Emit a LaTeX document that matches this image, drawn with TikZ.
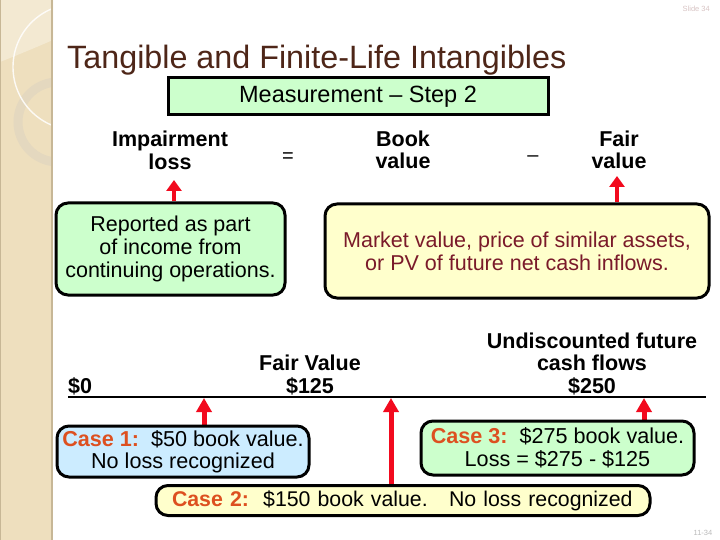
\documentclass[tikz,border=0pt]{standalone}
\usepackage{fontspec}
\setmainfont{Liberation Sans}
\usetikzlibrary{arrows.meta}
\definecolor{titlebrown}{HTML}{4E2618}
\definecolor{lgreen}{HTML}{CCFFCC}
\definecolor{lyellow}{HTML}{FFFFCC}
\definecolor{lblue}{HTML}{CCECFF}
\definecolor{mktred}{HTML}{7A1A2A}
\definecolor{caseor}{HTML}{DD5020}
\definecolor{arrowred}{HTML}{F20A1E}
\definecolor{stripbg}{HTML}{EEDFBE}
\definecolor{striptop}{HTML}{F3E9D2}
\definecolor{stripedge}{HTML}{C7B796}
\definecolor{ringcol}{HTML}{E4D8BF}
\definecolor{slidegray}{HTML}{D8C4C4}
\definecolor{pagegray}{HTML}{BBBBBB}
\pgfdeclarelayer{bg}
\pgfsetlayers{bg,main}
\begin{document}
\begin{tikzpicture}[x=1pt,y=-1pt,
  body/.style={font=\fontsize{21.5}{23}\selectfont, align=center, inner sep=0pt},
  lbl/.style={font=\bfseries\fontsize{21.5}{22.5}\selectfont, align=center, inner sep=0pt},
  casetxt/.style={font=\fontsize{21.6}{22.5}\selectfont, align=center, inner sep=0pt},
  roundbox/.style={draw=black, line width=3pt, rounded corners=12pt},
  redarr/.style={draw=arrowred, line width=5pt, -{Triangle[length=14pt,width=15pt]}},
  redarrsm/.style={draw=arrowred, line width=4pt, -{Triangle[length=11pt,width=15pt]}}
]
\useasboundingbox (0,0) rectangle (720,540);

% decorative strip
\begin{pgfonlayer}{bg}
\fill[white] (0,0) rectangle (720,540);
\fill[stripbg] (0,0) rectangle (53,540);
\fill[striptop] (0,0) -- (53,0) -- (53,40) .. controls (30,50) and (15,56) .. (0,62) -- cycle;
\begin{scope}
\clip (0,0) rectangle (51,540);
\draw[ringcol, line width=9pt] (58,122) circle[radius=40pt];
\draw[white, opacity=0.85, line width=1.4pt] (76,67) circle[radius=63pt];
\end{scope}
\draw[stripedge, line width=2.5pt] (52,0) -- (52,540);
\draw[stripedge, line width=1pt] (0.5,0) -- (0.5,540);
\end{pgfonlayer}

% header texts
\node[anchor=base east, text=slidegray, font=\fontsize{7.5}{8}\selectfont, inner sep=0pt] (slide) at (710,12) {Slide 34};
\node[anchor=base west, text=titlebrown, font=\fontsize{32.3}{34}\selectfont, inner sep=0pt] (title) at (67,69) {Tangible and Finite-Life Intangibles};
\node[draw=black, line width=3pt, fill=lgreen, minimum width=380pt, minimum height=37pt, inner sep=0pt,
      font=\fontsize{23.5}{24}\selectfont] (meas) at (358,96.5) {Measurement -- Step 2};

% formula row
\node[lbl, anchor=base] (imp) at (170,169.5) {Impairment\\loss};
\node[font=\fontsize{20}{22}\selectfont, inner sep=0pt] (eq) at (288,158) {=};
\node[lbl, anchor=base] (book) at (403,169) {Book\\value};
\node[font=\fontsize{20}{22}\selectfont, inner sep=0pt] (minus) at (533,159) {--};
\node[lbl, anchor=base] (fair) at (619,169) {Fair\\value};

% explanation boxes
\node[roundbox, fill=lgreen, minimum width=229pt, minimum height=92pt, body] (rep) at (170.5,249)
  {Reported as part\\of income from\\continuing operations.};
\node[roundbox, fill=lyellow, minimum width=384pt, minimum height=94pt, body, text=mktred] (mkt) at (517,251)
  {Market value, price of similar assets,\\or PV of future net cash inflows.};

% number line
\coordinate (nl0) at (68,397);
\coordinate (nl1) at (706,397);
\draw[black, line width=2.7pt] (nl0) -- (nl1);
\node[lbl, anchor=base west] (zero) at (68,393) {\$0};
\node[lbl, anchor=base] (fv) at (310,393) {Fair Value\\\$125};
\node[lbl, anchor=base] (und) at (592,393) {Undiscounted future\\cash flows\\\$250};

% case boxes
\node[roundbox, fill=lblue, minimum width=252pt, minimum height=51pt, casetxt] (case1) at (183,451.5)
  {{\color{caseor}\bfseries Case 1:}\ \ \$50 book value.\\No loss recognized};
\node[roundbox, fill=lgreen, minimum width=273pt, minimum height=54pt, casetxt] (case3) at (557.5,448)
  {{\color{caseor}\bfseries Case 3:}\ \ \$275 book value.\\Loss = \$275 - \$125};
\node[roundbox, fill=lyellow, text width=462pt, inner xsep=16pt, inner ysep=0pt, minimum height=30pt,
      font=\fontsize{21.3}{22}\selectfont, align=left] (case2) at (403,500.5)
  {{\color{caseor}\bfseries Case 2:}\ \ \$150 book value.\ \ \ No loss recognized};

% page number
\node[anchor=base, text=pagegray, font=\fontsize{7.5}{8}\selectfont, inner sep=0pt] (pg) at (703,535) {11-34};

% arrows
\coordinate (tipimp) at (174,180);
\coordinate (tipfair) at (617,176);
\coordinate (t1) at (204,398);
\coordinate (t2) at (391,398);
\coordinate (t3) at (644,398);
\begin{pgfonlayer}{bg}
\draw[redarrsm] (rep.north -| tipimp) -- (tipimp);
\draw[redarrsm] (mkt.north -| tipfair) -- (tipfair);
\draw[redarr] (case1.north -| t1) -- (t1);
\draw[redarr] (case2.north -| t2) -- (t2);
\draw[redarr] (case3.north -| t3) -- (t3);
\end{pgfonlayer}
\end{tikzpicture}
\end{document}
